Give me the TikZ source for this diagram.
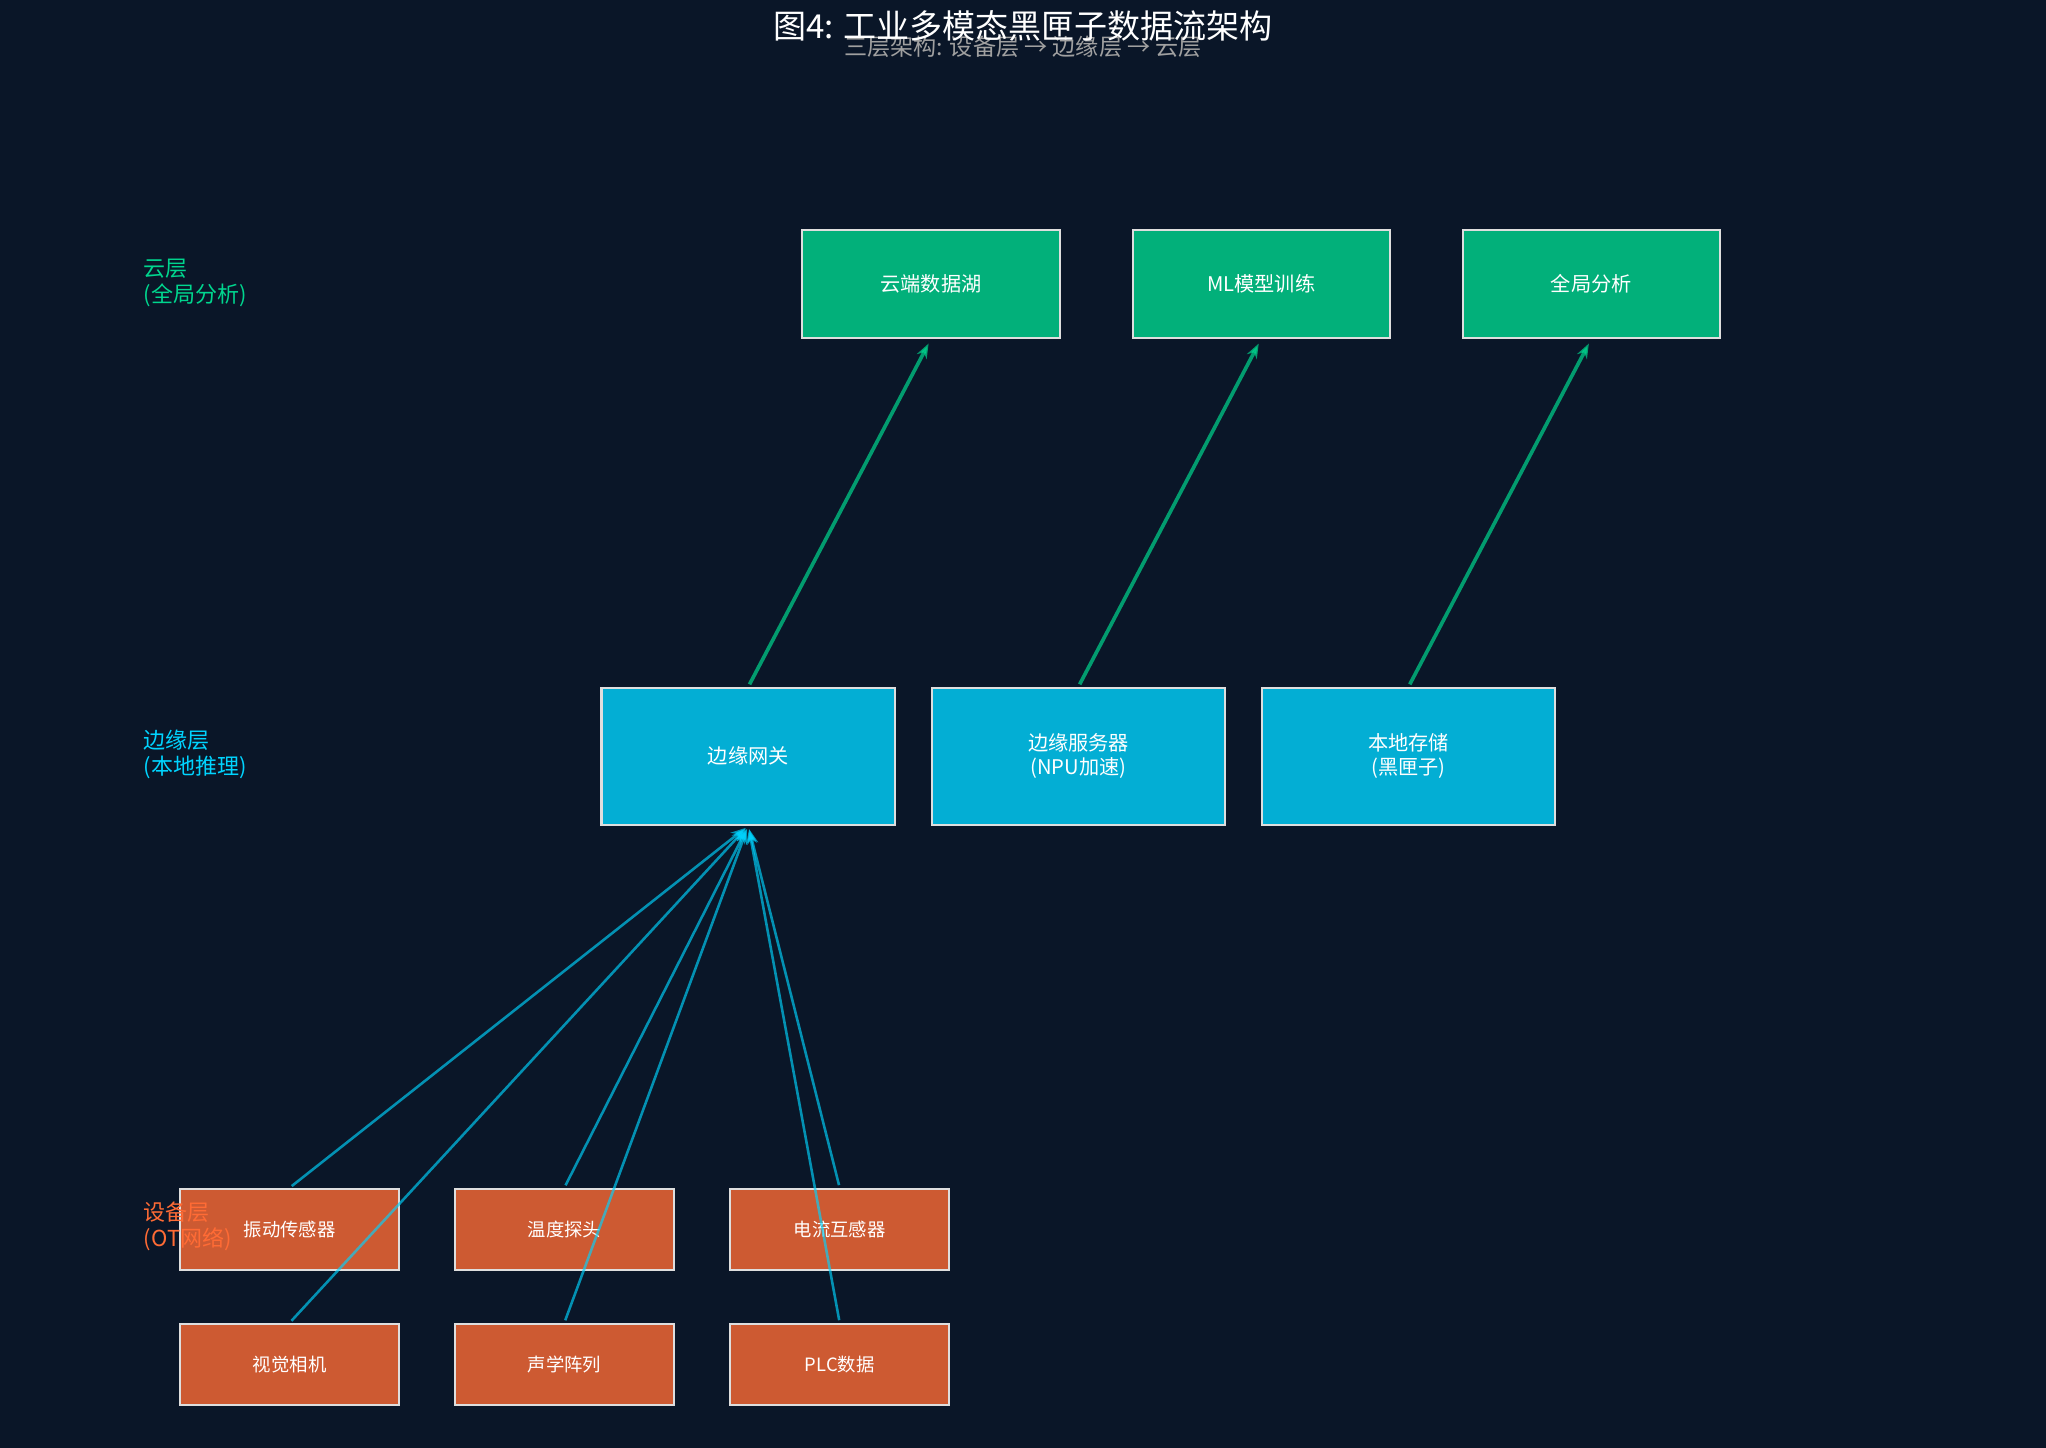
\documentclass[tikz,border=0pt]{standalone}
\usepackage{fontspec}
\setmainfont{Noto Sans CJK SC}
\usetikzlibrary{%
	arrows.meta%
}

\definecolor{bgnavy}{HTML}{0A1628}
\definecolor{cloudfill}{HTML}{02B07A}
\definecolor{edgefill}{HTML}{03AED4}
\definecolor{devfill}{HTML}{CD5A32}
\definecolor{cloudgreen}{HTML}{00D68E}
\definecolor{edgecyan}{HTML}{00D4FF}
\definecolor{devorange}{HTML}{FF6B35}
\definecolor{boxline}{HTML}{DEDEDE}
\definecolor{subgray}{HTML}{A0A0A0}

\tikzset{
	tierbox/.style={draw=boxline, line width=1.1pt, text=white, inner sep=0pt, align=center},
	cloudbox/.style={tierbox, fill=cloudfill, minimum width=4.925cm, minimum height=2.075cm, font=\fontsize{11}{12.8}\selectfont},
	edgebox/.style={tierbox, fill=edgefill, minimum width=5.625cm, minimum height=2.625cm, font=\fontsize{11}{12.8}\selectfont},
	devbox/.style={tierbox, fill=devfill, minimum width=4.2cm, minimum height=1.55cm, font=\fontsize{10}{12}\selectfont},
	uplink/.style={->, cloudgreen, opacity=0.7, line width=2pt, shorten <=0.05cm, shorten >=0.1cm},
	devlink/.style={->, edgecyan, opacity=0.65, line width=1.4pt, shorten <=0.05cm, shorten >=0.07cm},
	tierlabel/.style={anchor=west, align=left, inner sep=0pt, font=\fontsize{12}{14.2}\selectfont}
}

\begin{document}
\begin{tikzpicture}[x=0.025cm, y=-0.025cm, >={Stealth[length=8pt,width=6pt]}]
	% Background
	\useasboundingbox (0,0) rectangle (1568,1109);
	\fill[bgnavy] (-5,-5) rectangle (1573,1114);
	
	% Cloud tier
	\node[cloudbox] (lake) at (713.5,217.5) {云端数据湖};
	\node[cloudbox] (mltrain) at (966.5,217.5) {ML模型训练};
	\node[cloudbox] (global) at (1219.5,217.5) {全局分析};
	
	% Edge tier
	\node[edgebox] (gateway) at (573.5,579.5) {边缘网关};
	\node[edgebox] (server) at (826.5,579.5) {边缘服务器\\(NPU加速)};
	\node[edgebox] (storage) at (1079.5,579.5) {本地存储\\(黑匣子)};
	
	% Device tier
	\node[devbox] (vib) at (222,942) {振动传感器};
	\node[devbox] (temp) at (432.5,942) {温度探头};
	\node[devbox] (curr) at (643.5,942) {电流互感器};
	\node[devbox] (cam) at (222,1045.5) {视觉相机};
	\node[devbox] (acou) at (432.5,1045.5) {声学阵列};
	\node[devbox] (plc) at (643.5,1045.5) {PLC数据};
	
	% Edge to cloud
	\draw[uplink] (gateway.north) -- (lake.south);
	\draw[uplink] (server.north) -- (mltrain.south);
	\draw[uplink] (storage.north) -- (global.south);
	
	% Devices to gateway
	\foreach \dev in {vib,temp,curr,cam,acou,plc}
	\draw[devlink] (\dev.north) -- (gateway.south);
	
	% Tier labels
	\node[tierlabel, text=cloudgreen] (cloudlbl) at (110,217) {云层\\(全局分析)};
	\node[tierlabel, text=edgecyan] (edgelbl) at (110,578) {边缘层\\(本地推理)};
	\node[tierlabel, text=devorange] (devlbl) at (110,940) {设备层\\(OT网络)};
	
	% Title
	\node[text=subgray, font=\fontsize{12.6}{15}\selectfont] (subtitle) at (784,36) {三层架构: 设备层 → 边缘层 → 云层};
	\node[text=white, font=\fontsize{18}{21}\selectfont] (title) at (784,20) {图4: 工业多模态黑匣子数据流架构};
\end{tikzpicture}
\end{document}
